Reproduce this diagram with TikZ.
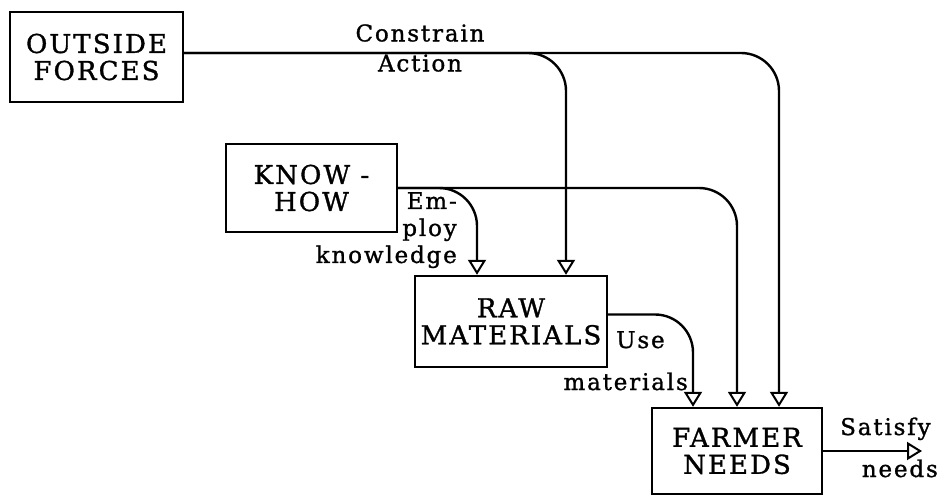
\documentclass[tikz,border=0pt]{standalone}
\usepackage{fontspec}
\setmainfont{DejaVu Serif}[LetterSpace=8,FakeBold=1.2]
\usetikzlibrary{arrows.meta}
\begin{document}
\begin{tikzpicture}[x=1pt,y=-1pt,
  box/.style={draw,line width=2.4pt,inner sep=0pt,align=center,font=\fontsize{26}{27}\selectfont},
  conn/.style={line width=2.4pt,rounded corners=38pt,-{Triangle[open,width=18pt,length=15pt,line width=2pt]}},
  lbl/.style={inner sep=0pt,font=\fontsize{23}{28}\selectfont}]
\useasboundingbox (0,0) rectangle (942,497);
\fill[white] (0,0) rectangle (942,497);
\node[box,minimum width=173pt,minimum height=90pt] (of) at (96.5,57) {OUTSIDE\\FORCES};
\node[box,minimum width=171pt,minimum height=88pt] (kh) at (311.5,188) {KNOW -\\HOW};
\node[box,minimum width=192pt,minimum height=91pt] (raw) at (511,321.5) {RAW\\MATERIALS};
\node[box,minimum width=170pt,minimum height=86pt] (fn) at (737,451) {FARMER\\NEEDS};
\coordinate (out) at (922,451);
% connectors
\draw[conn] ([yshift=4pt]of.east) -| ([xshift=55pt]raw.north);
\draw[conn] ([yshift=4pt]of.east) -| ([xshift=42pt]fn.north);
\draw[conn] (kh.east) -| ([xshift=-34pt]raw.north);
\draw[conn] (kh.east) -| (fn.north);
\draw[conn] ([yshift=7pt]raw.east) -| ([xshift=-44pt]fn.north);
\draw[conn] (fn.east) -- (out);
% labels
\node[lbl,align=center,font=\fontsize{23}{30}\selectfont] (l1) at (420,48) {Constrain\\Action};
\node[lbl,align=right,anchor=north east,font=\fontsize{23}{27}\selectfont] (l2) at (457,192) {Em-\\ploy\\knowledge};
\node[lbl,anchor=base west] (l3) at (616,348) {Use};
\node[lbl,anchor=base east] (l4) at (688,390) {materials};
\node[lbl,anchor=base west] (l5) at (840,435) {Satisfy};
\node[lbl,anchor=base east] (l6) at (938,477) {needs};
\end{tikzpicture}
\end{document}
